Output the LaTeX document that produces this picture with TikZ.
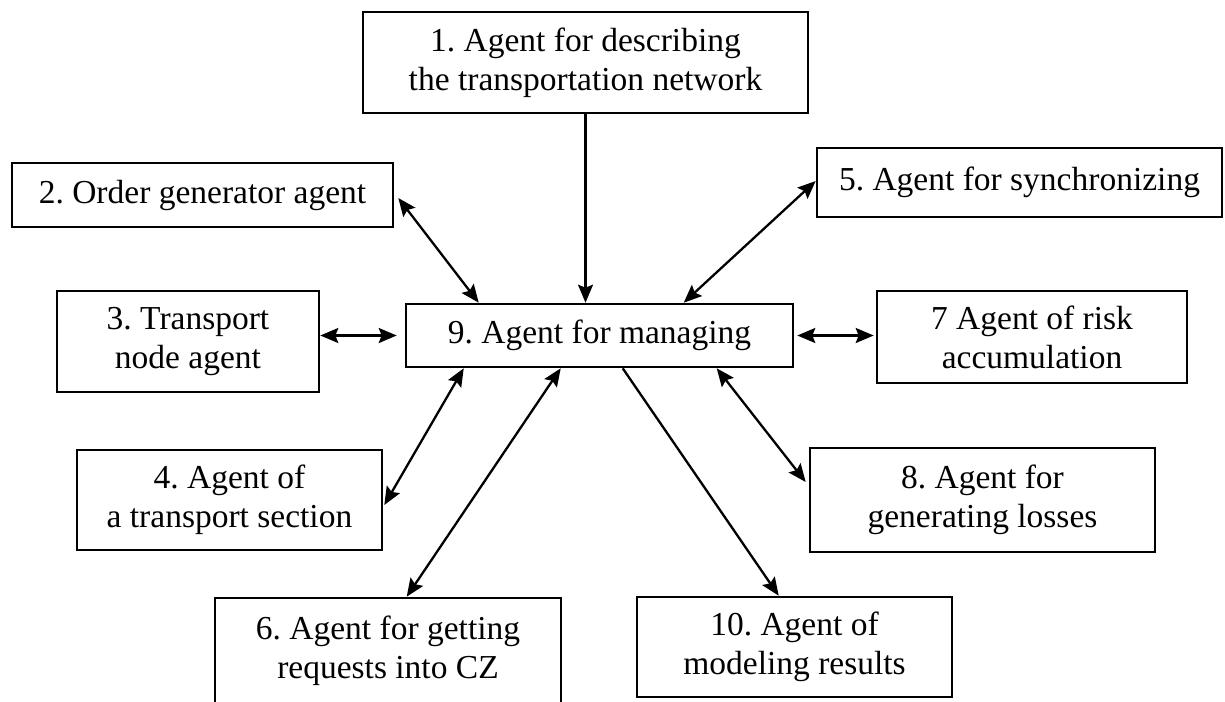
\documentclass[tikz,border=0pt]{standalone}
\usepackage{fontspec}
\setmainfont{Liberation Serif}
\frenchspacing
\usetikzlibrary{arrows.meta,calc}
\begin{document}
\begin{tikzpicture}[x=1pt,y=-1pt,
  agent/.style={draw=black, line width=2.6pt, fill=white, inner sep=0pt,
    align=center, font=\fontsize{33.5}{39}\selectfont},
  link/.style={draw=black, line width=2.3pt},
  >={Stealth[length=18pt,width=15pt,inset=3pt]}]
% page frame
\fill[white] (0,0) rectangle (1225,701);
\useasboundingbox (0,0) rectangle (1225,701);

% agents
\node[agent, minimum width=445pt, minimum height=101pt] (n1) at (585.5,62.5)
  {1. Agent for describing\\the transportation network};
\node[agent, minimum width=381pt, minimum height=64pt] (n2) at (202.5,195)
  {2. Order generator agent};
\node[agent, minimum width=405pt, minimum height=69pt] (n5) at (1019.5,182.5)
  {5. Agent for synchronizing};
\node[agent, minimum width=262pt, minimum height=101pt] (n3) at (188,341.5)
  {3. Transport\\node agent};
\node[agent, minimum width=387pt, minimum height=63pt] (n9) at (599.5,335.5)
  {9. Agent for managing};
\node[agent, minimum width=310pt, minimum height=92pt] (n7) at (1032,337)
  {7 Agent of risk\\accumulation};
\node[agent, minimum width=305pt, minimum height=100pt] (n4) at (229.5,500)
  {4. Agent of\\a transport section};
\node[agent, minimum width=345pt, minimum height=104pt] (n8) at (982.5,500)
  {8. Agent for\\generating losses};
\node[agent, minimum width=346pt, minimum height=105pt] (n6) at (388,650.5)
  {6. Agent for getting\\requests into CZ};
\node[agent, minimum width=315pt, minimum height=100pt] (n10) at (794.5,647)
  {10. Agent of\\modeling results};

% connections to the managing agent
\draw[link,->] (n1.south) -- (n1.south |- n9.north);
\draw[link,<->] ($(n2.east)+(4,3)$) -- ($(n9.north west)+(74,0)$);
\draw[link,<->] ($(n9.north west)+(279,0)$) -- ($(n5.west)+(0,-1.5)$);
\draw[link,<->] (n3.east |- n9.west) -- ($(n9.west)+(-8,0)$);
\draw[link,<->] ($(n9.east)+(3,0)$) -- ($(n9.east -| n7.west)+(-2,0)$);
\draw[link,<->] ($(n9.south west)+(59,0)$) -- ($(n4.east)+(1,5)$);
\draw[link,<->] ($(n9.south west)+(156,0)$) -- ($(n6.north west)+(193,0)$);
\draw[link,<->] ($(n9.south west)+(312,0)$) -- ($(n8.west)+(-3,-18)$);
\draw[link,->] ($(n9.south west)+(218,0)$) -- ($(n10.north west)+(143,0)$);
\end{tikzpicture}
\end{document}
